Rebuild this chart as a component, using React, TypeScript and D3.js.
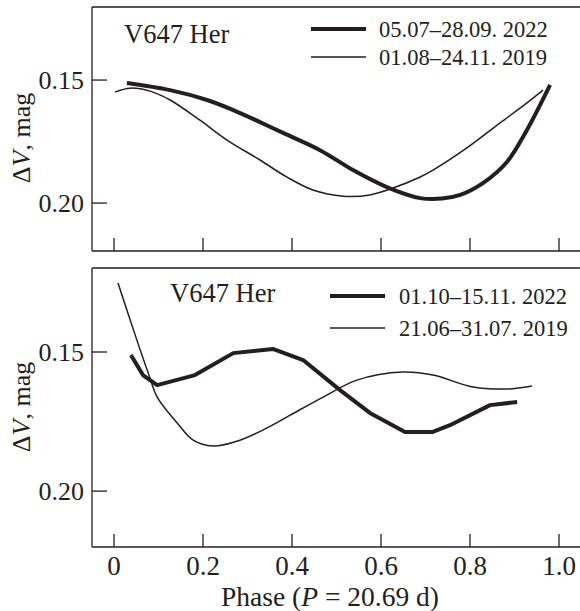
import * as d3 from 'd3'

// Phase-folded light curves of V647 Her
const TOP_2022_PHASE = [0.029, 0.126, 0.209, 0.268, 0.328, 0.380, 0.463, 0.537, 0.613, 0.688, 0.737, 0.778, 0.829, 0.883, 0.928, 0.980]
const TOP_2022_MAG   = [0.1512, 0.1541, 0.1581, 0.1622, 0.1671, 0.1715, 0.1785, 0.1866, 0.1935, 0.1980, 0.1982, 0.1967, 0.1919, 0.1833, 0.1703, 0.1520]

const TOP_2019_PHASE = [0.002, 0.036, 0.081, 0.126, 0.193, 0.254, 0.328, 0.388, 0.447, 0.515, 0.575, 0.627, 0.688, 0.717, 0.793, 0.867, 0.928, 0.964]
const TOP_2019_MAG   = [0.1549, 0.1533, 0.1545, 0.1581, 0.1663, 0.1744, 0.1825, 0.1894, 0.1947, 0.1972, 0.1967, 0.1939, 0.1894, 0.1866, 0.1776, 0.1675, 0.1593, 0.1541]

const BOT_2022_PHASE = [0.038, 0.065, 0.097, 0.182, 0.268, 0.357, 0.425, 0.508, 0.575, 0.654, 0.715, 0.755, 0.845, 0.906]
const BOT_2022_MAG   = [0.1511, 0.1583, 0.1619, 0.1583, 0.1504, 0.1489, 0.1529, 0.1637, 0.1719, 0.1788, 0.1788, 0.1763, 0.1691, 0.1680]

const BOT_2019_PHASE = [0.009, 0.052, 0.081, 0.097, 0.142, 0.178, 0.222, 0.283, 0.344, 0.396, 0.470, 0.546, 0.649, 0.717, 0.807, 0.883, 0.939]
const BOT_2019_MAG   = [0.1252, 0.1460, 0.1594, 0.1662, 0.1755, 0.1817, 0.1838, 0.1817, 0.1773, 0.1727, 0.1662, 0.1601, 0.1572, 0.1583, 0.1626, 0.1633, 0.1622]

const X_TICKS = [0, 0.2, 0.4, 0.6, 0.8, 1.0]
const Y_TICKS = [0.15, 0.2]

const LEGEND_TOP = ['05.07\u201328.09. 2022', '01.08\u201324.11. 2019']
const LEGEND_BOT = ['01.10\u201315.11. 2022', '21.06\u201331.07. 2019']
const STAR = 'V647 Her'

const FONT = "'Times New Roman', 'Liberation Serif', Tinos, serif"
const INK = '#231f20'
const LEFT = 92
const RIGHT = 580

const x = d3.scaleLinear().domain([0, 1]).range([114, 559])

const panels = [
  {
    y: d3.scaleLinear().domain([0.1203, 0.2195]).range([7, 251]),
    thick: { p: TOP_2022_PHASE, m: TOP_2022_MAG, curve: d3.curveCatmullRom },
    thin:  { p: TOP_2019_PHASE, m: TOP_2019_MAG },
    legend: LEGEND_TOP,
    legX: 311, legY: [29, 57], legTextX: 379,
    starX: 124, starY: 43,
    yLabelY: 138,
    labels: false,
  },
  {
    y: d3.scaleLinear().domain([0.1198, 0.2201]).range([268, 547]),
    thick: { p: BOT_2022_PHASE, m: BOT_2022_MAG, curve: d3.curveLinear },
    thin:  { p: BOT_2019_PHASE, m: BOT_2019_MAG },
    legend: LEGEND_BOT,
    legX: 330, legY: [296, 328], legTextX: 399,
    starX: 170, starY: 302,
    yLabelY: 407,
    labels: true,
  },
]

function linePath(p: number[], m: number[], y: d3.ScaleLinear<number, number>, curve: d3.CurveFactory) {
  const pts = p.map((v, i) => [v, m[i]] as [number, number])
  return d3.line<[number, number]>().x(d => x(d[0])).y(d => y(d[1])).curve(curve)(pts) || ''
}

export default function App() {
  return (
    <svg width={580} height={611} style={{ position: 'absolute', left: 0, top: 0, background: '#fff' }}>
      <g fontFamily={FONT}>
      {panels.map((pn, k) => {
        const [y0, y1] = pn.y.range()
        return (
          <g key={k}>
            {/* frame: top, left, bottom */}
            <line x1={LEFT} x2={RIGHT} y1={y0} y2={y0} stroke={INK} strokeWidth={1.3} />
            <line x1={LEFT} x2={LEFT} y1={y0} y2={y1} stroke={INK} strokeWidth={1.3} />
            <line x1={LEFT} x2={RIGHT} y1={y1} y2={y1} stroke={INK} strokeWidth={1.3} />

            {Y_TICKS.map(t => (
              <g key={t}>
                <line x1={LEFT} x2={LEFT + 15} y1={pn.y(t)} y2={pn.y(t)} stroke={INK} strokeWidth={1.3} />
                <text x={LEFT - 8} y={pn.y(t)} dy="0.35em" textAnchor="end" fontSize={26} fill={INK}>
                  {t.toFixed(2)}
                </text>
              </g>
            ))}

            {X_TICKS.map(t => (
              <g key={t}>
                <line x1={x(t)} x2={x(t)} y1={y1} y2={y1 - 13} stroke={INK} strokeWidth={1.3} />
                {pn.labels && (
                  <text x={x(t)} y={575} textAnchor="middle" fontSize={27} fill={INK}>
                    {t === 0 ? '0' : t.toFixed(1)}
                  </text>
                )}
              </g>
            ))}

            <text transform={`translate(30,${pn.yLabelY}) rotate(-90)`} textAnchor="middle" fontSize={26} fill={INK}>
              {'\u0394'}<tspan fontStyle="italic">V</tspan>, mag
            </text>

            <text x={pn.starX} y={pn.starY} fontSize={26.5} fill={INK}>{STAR}</text>

            {pn.legend.map((lab, i) => (
              <g key={lab}>
                <line x1={pn.legX} x2={pn.legX + 55} y1={pn.legY[i]} y2={pn.legY[i]}
                  stroke={INK} strokeWidth={i === 0 ? 4 : 1.5} />
                <text x={pn.legTextX} y={pn.legY[i]} dy="0.35em" fontSize={22.5} fill={INK}>{lab}</text>
              </g>
            ))}

            <path d={linePath(pn.thin.p, pn.thin.m, pn.y, d3.curveCatmullRom)} fill="none"
              stroke={INK} strokeWidth={1.5} />
            <path d={linePath(pn.thick.p, pn.thick.m, pn.y, pn.thick.curve)} fill="none"
              stroke={INK} strokeWidth={4} strokeLinejoin="round" />
          </g>
        )
      })}

      <text x={330} y={606} textAnchor="middle" fontSize={27.5} fill={INK}>
        Phase (<tspan fontStyle="italic">P</tspan> = 20.69 d)
      </text>
      </g>
    </svg>
  )
}
